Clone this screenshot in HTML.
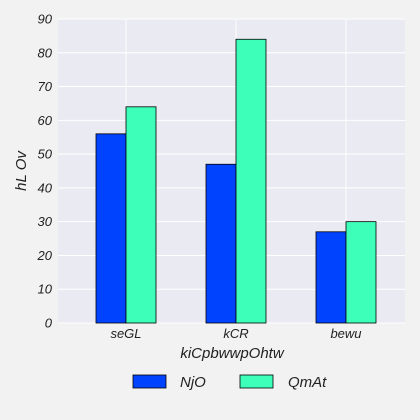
<!DOCTYPE html>
<html><head><meta charset="utf-8"><style>
body{margin:0;background:#f2f2f2;}
svg{display:block;font-family:"Liberation Sans",sans-serif;font-style:italic;}
</style></head><body>
<svg id="chart" width="420" height="420">
<rect x="0" y="0" width="420" height="420" fill="#f2f2f2"/>
<rect id="plot" x="58" y="19" width="347" height="304" fill="#eaeaf2"/>
<g id="grid"></g><g id="bars"></g><g id="ticks"></g>
<text x="232" y="358" font-size="15" text-anchor="middle" fill="#222">kiCpbwwpOhtw</text>
<text transform="translate(26,171) rotate(-90)" font-size="15" text-anchor="middle" fill="#222">hL Ov</text>
<g>
<rect x="133" y="375" width="33" height="13" fill="#0043ff" stroke="#000" stroke-width="0.8"/>
<text x="180" y="387" font-size="15" fill="#222">NjO</text>
<rect x="240" y="375" width="33" height="13" fill="#3dffb9" stroke="#000" stroke-width="0.8"/>
<text x="288" y="387" font-size="15" fill="#222">QmAt</text>
</g>
</svg>
<script>
const categories=["seGL","kCR","bewu"];
const seriesNjO=[56,47,27];
const seriesQmAt=[64,84,30];
const yTicks=[0,10,20,30,40,50,60,70,80,90];
const NS="http://www.w3.org/2000/svg";
const y=v=>323-v*(304/90);
const xc=i=>126+i*110;
const grid=document.getElementById('grid'),bars=document.getElementById('bars'),ticks=document.getElementById('ticks');
function mk(tag,attrs,parent){const e=document.createElementNS(NS,tag);for(const k in attrs)e.setAttribute(k,attrs[k]);parent.appendChild(e);return e;}
yTicks.forEach(t=>{
 const l=mk('line',{x1:58,x2:405,y1:y(t),y2:y(t),stroke:'#fff','stroke-width':1},grid);
 
 
 const tx=mk('text',{x:52,y:y(t)+4.5,'font-size':13,'text-anchor':'end',fill:'#222'},ticks);
 tx.textContent=t;
 
 
});
categories.forEach((c,i)=>{
 const g=mk('line',{x1:xc(i),x2:xc(i),y1:19,y2:323,stroke:'#fff','stroke-width':1},grid);
 
 
 const b1=mk('rect',{x:xc(i)-30,y:y(seriesNjO[i]),width:30,height:323-y(seriesNjO[i]),fill:'#0043ff',stroke:'#000','stroke-width':0.8},bars);
 
 
 const b2=mk('rect',{x:xc(i),y:y(seriesQmAt[i]),width:30,height:323-y(seriesQmAt[i]),fill:'#3dffb9',stroke:'#000','stroke-width':0.8},bars);
 
 
 const tx=mk('text',{x:xc(i),y:338,'font-size':13,'text-anchor':'middle',fill:'#222'},ticks);
 tx.textContent=c;
 
 
});
</script>
</body></html>
